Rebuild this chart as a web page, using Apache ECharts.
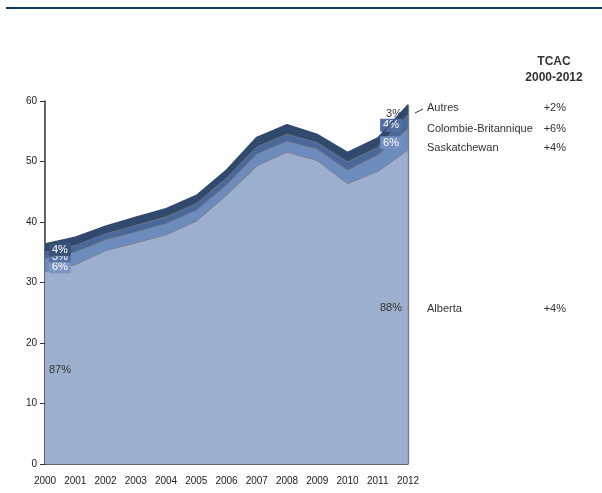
<!DOCTYPE html>
<html>
<head>
<meta charset="utf-8">
<script src="https://cdn.jsdelivr.net/npm/echarts@6/dist/echarts.min.js"></script>
<style>
  html, body { margin: 0; padding: 0; background: #fff; }
  #chart { width: 602px; height: 493px; }
</style>
</head>
<body>
<div id="chart"></div>
<script>
// Production by province, stacked (2000-2012)
const years = ['2000','2001','2002','2003','2004','2005','2006','2007','2008','2009','2010','2011','2012'];
const alberta      = [31.8, 33.0, 35.3, 36.6, 37.9, 40.2, 44.5, 49.3, 51.6, 50.2, 46.4, 48.4, 52.0];
const saskatchewan = [2.2, 2.1, 1.8, 1.8, 1.9, 1.8, 1.7, 2.0, 1.8, 1.9, 2.2, 2.7, 3.5];
const colombieBritannique = [1.1, 1.1, 1.0, 1.1, 1.1, 1.1, 1.1, 1.2, 1.2, 1.1, 1.4, 1.3, 2.3];
const autres       = [1.3, 1.3, 1.2, 1.3, 1.3, 1.3, 1.3, 1.5, 1.5, 1.3, 1.5, 1.5, 1.6];
const yTicks = [0, 10, 20, 30, 40, 50, 60];
const seriesNames = ['Alberta', 'Saskatchewan', 'Colombie-Britannique', 'Autres'];
const tcacTitle = ['TCAC', '2000-2012'];

const FONT = 'Liberation Sans, Arial, sans-serif';
const stackData = [alberta, saskatchewan, colombieBritannique, autres];
const fills = ['#9cafce', '#6d8cbe', '#4a699b', '#30496d'];
const edgeColors = ['#7a7a7a', '#7a7a7a', '#7a7a7a', '#30496d'];

const first = 0, last = years.length - 1;
const totals = years.map((_, i) => stackData.reduce((s, arr) => s + arr[i], 0));
const share = (arr, i) => Math.round(arr[i] / totals[i] * 100) + '%';
const cagr = arr => {
  const r = Math.pow(arr[last] / arr[first], 1 / (last - first)) - 1;
  return '+' + Math.round(r * 100) + '%';
};
const base = (k, i) => stackData.slice(0, k).reduce((s, arr) => s + arr[i], 0);

// label look per band at each end of the range
const startLabelStyle = [
  { color: '#333' },
  { color: '#fff', backgroundColor: '#7d96c3', padding: [1, 3] },
  { color: '#fff', backgroundColor: '#5571a2', padding: [0, 3] },
  { color: '#fff', backgroundColor: '#3a5479', padding: [1, 3] }
];
const endLabelStyle = [
  { color: '#333' },
  { color: '#fff', backgroundColor: '#7390c0', padding: [1, 3] },
  { color: '#fff', backgroundColor: '#52709f', padding: [1, 3] },
  { color: '#333' }
];

const series = stackData.map((arr, k) => ({
  name: seriesNames[k],
  type: 'line',
  stack: 'total',
  data: arr,
  symbol: 'none',
  z: 2 + k,
  lineStyle: { color: edgeColors[k], width: 1.3 },
  areaStyle: { color: fills[k], opacity: 1 },
  markPoint: {
    symbol: 'circle', symbolSize: 0, silent: true,
    animation: false,
    data: [
      {
        coord: [years[first], base(k, first) + arr[first] / 2],
        label: Object.assign({
          show: true, formatter: share(arr, first), position: 'right', distance: 4,
          offset: [0, 2], fontFamily: FONT, fontSize: 11
        }, startLabelStyle[k])
      },
      {
        coord: [years[last], base(k, last) + arr[last] / 2],
        label: Object.assign({
          show: true, formatter: share(arr, last), position: 'left', distance: 6,
          offset: [0, k === 0 ? 1 : 4], fontFamily: FONT, fontSize: 11
        }, endLabelStyle[k])
      }
    ]
  }
}));

// right edge of the stacked area
series[3].markLine = {
  silent: true, symbol: 'none', animation: false,
  lineStyle: { color: '#7a7a7a', width: 1.3, type: 'solid' },
  label: { show: false },
  data: [[{ coord: [years[last], 0] }, { coord: [years[last], totals[last]] }]]
};

const chart = echarts.init(document.getElementById('chart'));

// legend column on the right with growth rates
const legendRows = [
  { name: seriesNames[3], y: 108, rate: cagr(autres) },
  { name: seriesNames[2], y: 129, rate: cagr(colombieBritannique) },
  { name: seriesNames[1], y: 148, rate: cagr(saskatchewan) },
  { name: seriesNames[0], y: 309, rate: cagr(alberta) }
];
const graphics = [
  { type: 'rect', shape: { x: 6, y: 7, width: 596, height: 2 }, style: { fill: '#0b3a63' } },
  { type: 'text', x: 554, y: 62, style: { text: tcacTitle[0], fontFamily: FONT, fontSize: 12, fontWeight: 'bold', fill: '#333', align: 'center', verticalAlign: 'middle' } },
  { type: 'text', x: 554, y: 78, style: { text: tcacTitle[1], fontFamily: FONT, fontSize: 12, fontWeight: 'bold', fill: '#333', align: 'center', verticalAlign: 'middle' } },
  { type: 'line', shape: { x1: 415, y1: 113, x2: 423, y2: 109 }, style: { stroke: '#333', lineWidth: 1 } }
];
legendRows.forEach(r => {
  graphics.push({ type: 'text', x: 427, y: r.y, style: { text: r.name, fontFamily: FONT, fontSize: 11, fill: '#333', verticalAlign: 'middle' } });
  graphics.push({ type: 'text', x: 566, y: r.y, style: { text: r.rate, fontFamily: FONT, fontSize: 11, fill: '#333', align: 'right', verticalAlign: 'middle' } });
});

chart.setOption({
  animation: false,
  backgroundColor: '#fff',
  grid: { left: 45, right: 194, top: 101, bottom: 29, containLabel: false },
  xAxis: {
    type: 'category',
    data: years,
    boundaryGap: false,
    axisLine: { lineStyle: { color: '#333', width: 1.5 } },
    axisTick: { show: false },
    axisLabel: { color: '#222', fontFamily: FONT, fontSize: 10, margin: 12, interval: 0 },
    splitLine: { show: false }
  },
  yAxis: {
    type: 'value',
    min: yTicks[0],
    max: yTicks[yTicks.length - 1],
    interval: yTicks[1] - yTicks[0],
    axisLine: { show: true, lineStyle: { color: '#333', width: 1.5 } },
    axisTick: { show: true, length: 5, lineStyle: { color: '#333' } },
    axisLabel: { color: '#222', fontFamily: FONT, fontSize: 10, margin: 8 },
    splitLine: { show: false }
  },
  series: series,
  graphic: graphics
});
</script>
</body>
</html>
